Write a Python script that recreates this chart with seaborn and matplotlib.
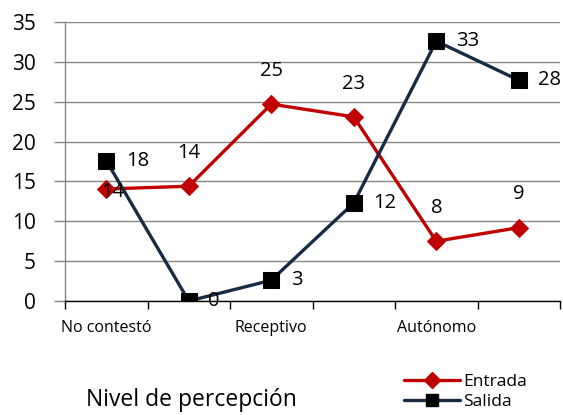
import matplotlib
matplotlib.use("Agg")
import matplotlib.pyplot as plt
import seaborn as sns
import pandas as pd
import numpy as np
from matplotlib.lines import Line2D

categories = ["No contestó", "", "Receptivo", "", "Autónomo", ""]
entrada = [14.05, 14.4, 24.7, 23.1, 7.5, 9.2]
salida = [17.6, 0.0, 2.6, 12.3, 32.6, 27.7]
entrada_labels = ["14", "14", "25", "23", "8", "9"]
salida_labels = ["18", "0", "3", "12", "33", "28"]
yticks = [0, 5, 10, 15, 20, 25, 30, 35]

sns.set_theme(style="white")
plt.rcParams['font.family'] = ['Open Sans', 'DejaVu Sans']
plt.rcParams['text.color'] = 'black'
plt.rcParams['xtick.color'] = 'black'
plt.rcParams['ytick.color'] = 'black'

idx = list(range(len(categories)))
df = pd.DataFrame({
    "pos": idx * 2,
    "valor": entrada + salida,
    "serie": ["Entrada"] * len(idx) + ["Salida"] * len(idx),
})

fig = plt.figure(figsize=(5.63, 4.15), dpi=100)
ax = fig.add_axes([0.1155, 0.2747, 0.8792, 0.6723])

red = "#C00000"
navy = "#172B45"
sns.lineplot(data=df, x="pos", y="valor", hue="serie", style="serie",
             palette={"Entrada": red, "Salida": navy},
             markers={"Entrada": "D", "Salida": "s"}, dashes=False,
             linewidth=2.4, markersize=11, ax=ax, legend=False, zorder=3)
lines = ax.get_lines()
lines[0].set_markerfacecolor(red); lines[0].set_markeredgecolor(red)
lines[1].set_markerfacecolor("black"); lines[1].set_markeredgecolor("black")
lines[0].set_markersize(9)

ax.set_xlim(-0.5, 5.5)
ax.set_ylim(0, 35)
ax.set_yticks(yticks)
ax.set_yticklabels([str(t) for t in yticks], fontsize=15)
ax.yaxis.grid(True, color="#868686", linewidth=1.0)
ax.set_axisbelow(True)

ax.set_xticks(np.arange(-0.5, 6.0, 1.0))
ax.set_xticklabels([])
ax.set_xticks(idx, minor=True)
ax.set_xticklabels(categories, minor=True, fontsize=11.5)
ax.tick_params(axis="x", which="major", length=6, width=1, color="black", direction="out", bottom=True)
ax.tick_params(axis="x", which="minor", length=0, pad=14)
ax.tick_params(axis="y", length=8, width=1, color="#868686", labelcolor="black",
               direction="out", left=True, pad=13)
ax.set_xlabel("")
ax.set_ylabel("")

for s in ["top", "right"]:
    ax.spines[s].set_visible(False)
ax.spines["left"].set_color("#868686")
ax.spines["left"].set_linewidth(1)
ax.spines["bottom"].set_color("black")
ax.spines["bottom"].set_linewidth(1)

for i, (v, t) in enumerate(zip(entrada, entrada_labels)):
    if i == 0:
        ax.annotate(t, (i, v), xytext=(5, -2), textcoords="offset points",
                    ha="center", va="center", fontsize=14.5, zorder=5)
    else:
        ax.annotate(t, (i, v), xytext=(0, 24), textcoords="offset points",
                    ha="center", va="center", fontsize=14.5)
for i, (v, t) in enumerate(zip(salida, salida_labels)):
    ax.annotate(t, (i, v), xytext=(14, 0), textcoords="offset points",
                ha="left", va="center", fontsize=14.5)

fig.text(0.34, 0.036, "Nivel de percepción", ha="center", va="center", fontsize=16.5)

handles = [
    Line2D([], [], color=red, marker="D", markersize=8, markerfacecolor=red, markeredgecolor=red, linewidth=2.4),
    Line2D([], [], color=navy, marker="s", markersize=9, markerfacecolor="black", markeredgecolor="black", linewidth=2.4),
]
fig.legend(handles, ["Entrada", "Salida"], loc="center left", bbox_to_anchor=(0.703, 0.055),
           frameon=False, fontsize=12.5, handlelength=3.2, handletextpad=0.2, labelspacing=0.2,
           borderpad=0)

fig.savefig("out.png", dpi=100)
